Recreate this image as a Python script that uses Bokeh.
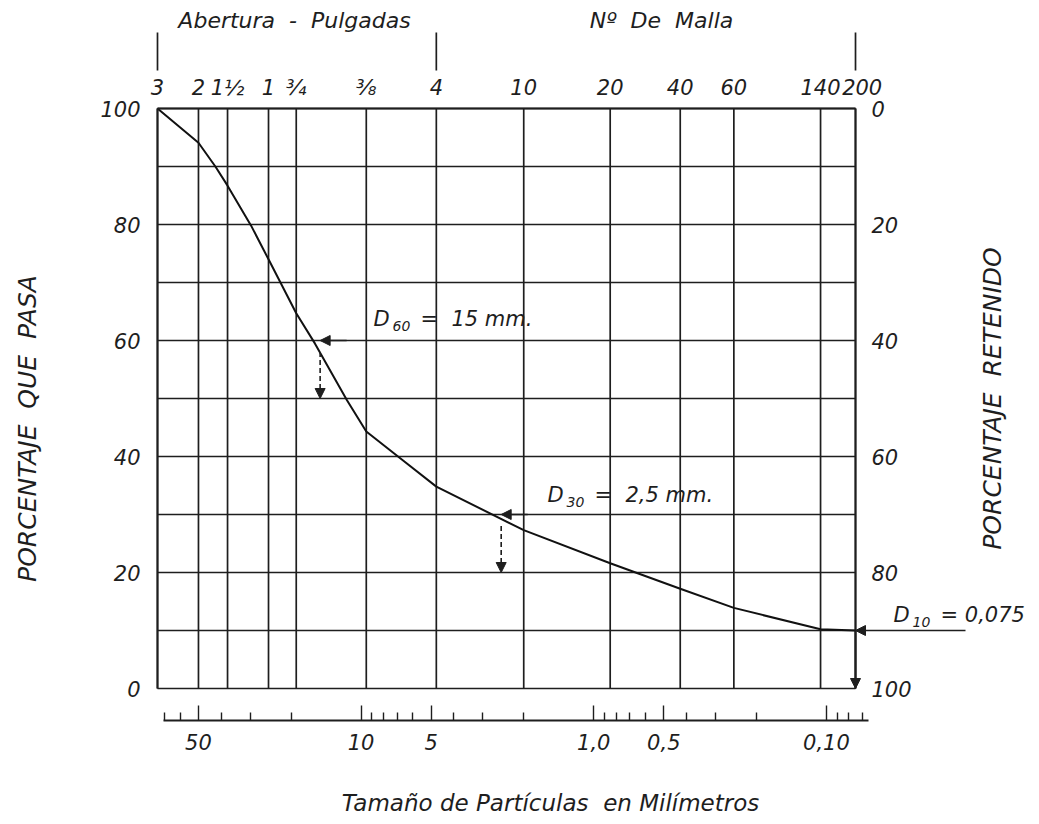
import numpy as np
from bokeh.plotting import figure
from bokeh.models import Range1d, LogScale, LinearAxis, LogAxis, FixedTicker, Arrow, NormalHead
from bokeh.core.properties import value
from bokeh.embed import file_html
from bokeh.resources import INLINE

# ---------------- data ----------------
particle_mm = [75, 50, 42.3, 37.5, 29.7, 25, 19, 15.8, 11.5, 9.5, 6.6, 4.75, 2.0,
               0.85, 0.425, 0.25, 0.106, 0.075]
percent_passing = [100, 94.1, 90, 86.7, 79.8, 74, 64.7, 59.5, 49.7, 44.3, 39.3, 34.8, 27.3,
                   21.6, 17.2, 13.9, 10.2, 10]

sieve_mm = [75, 50, 37.5, 25, 19, 9.5, 4.75, 2.0, 0.85, 0.425, 0.25, 0.106, 0.075]
sieve_labels = ["3", "2", "1½", "1", "¾", "⅜", "4", "10", "20", "40", "60", "140",
                "\u2007200"]

percent_ticks = [0, 20, 40, 60, 80, 100]
percent_grid = [0, 10, 20, 30, 40, 50, 60, 70, 80, 90, 100]

mm_major = [50, 10, 5, 1, 0.5, 0.1]
mm_major_labels = ["50", "10", "5", "1,0", "0,5", "0,10"]
mm_minor = [70, 60, 40, 30, 20, 9, 8, 7, 6, 4, 3, 2, 0.9, 0.8, 0.7, 0.6, 0.4, 0.3, 0.2,
            0.09, 0.08, 0.07]

d_subscripts = ["60", "30", "10"]
d_mm = [15, 2.5, 0.075]
d_percent = [60, 30, 10]
d_values = ["= \u00a015 mm.", "= \u00a02,5 mm.", "= 0,075"]

NB = "\u00a0"
group_labels = ["Abertura " + NB + "-" + NB + " Pulgadas", "Nº " + NB + "De " + NB + "Malla"]
group_edges_mm = [75, 4.75, 0.075]

title_left = "PORCENTAJE " + NB + "QUE " + NB + "PASA"
title_right = "PORCENTAJE " + NB + "RETENIDO"
title_bottom = "Tamaño de Partículas " + NB + "en Milímetros"

# ---------------- layout helpers (page pixels -> data) ----------------
W, H = 1035, 816
PAGE = 0
X75 = 157.0       # page x of 75 mm
PX_DEC = 232.67   # pixels per decade
Y0 = 688.0        # page y of 0 %
PX_PCT = 5.8      # pixels per percent


def mm_at(px):
    return 10 ** (np.log10(75) - (px - X75) / PX_DEC)


def pct_at(py):
    return (Y0 - py) / PX_PCT


ink = "#1e1e1e"
font = value("DejaVu Sans")
ital = value("italic")

x_range = Range1d(mm_at(PAGE), mm_at(PAGE + W))
y_range = Range1d(pct_at(PAGE + H), pct_at(PAGE))

p = figure(width=W, height=H, x_range=x_range, y_range=y_range, x_axis_type="log",
           x_axis_location=None, y_axis_location=None, toolbar_location=None,
           output_backend="svg", min_border=0, outline_line_color=None,
           background_fill_color="white", border_fill_color="white")
p.x_scale = LogScale()
p.grid.visible = False

# grid
n = len(sieve_mm)
p.segment(x0=sieve_mm, y0=[0] * n, x1=sieve_mm, y1=[100] * n, line_color=ink, line_width=1.7)
m = len(percent_grid)
p.segment(x0=[sieve_mm[0]] * m, y0=percent_grid, x1=[sieve_mm[-1]] * m, y1=percent_grid,
          line_color=ink, line_width=1.7)

# curve
p.line(particle_mm, percent_passing, line_color="#111111", line_width=2.0)


def style(ax, standoff):
    ax.major_label_text_font = "DejaVu Sans"
    ax.major_label_text_font_style = "italic"
    ax.major_label_text_font_size = "21px"
    ax.major_label_text_color = ink
    ax.axis_line_color = ink
    ax.axis_line_width = 1.9
    ax.major_tick_line_color = ink
    ax.minor_tick_line_color = ink
    ax.major_tick_line_width = 1.4
    ax.minor_tick_line_width = 1.4
    ax.major_label_standoff = standoff


left = LinearAxis(ticker=FixedTicker(ticks=percent_ticks), fixed_location=sieve_mm[0],
                  bounds=(0, 100), major_tick_in=0, major_tick_out=0,
                  minor_tick_in=0, minor_tick_out=0)
style(left, 17)
p.add_layout(left, "left")

p.extra_y_ranges = {"retained": Range1d(100 - y_range.start, 100 - y_range.end)}
right = LinearAxis(y_range_name="retained", ticker=FixedTicker(ticks=percent_ticks),
                   fixed_location=sieve_mm[-1], bounds=(0, 100), major_tick_in=0,
                   major_tick_out=0, minor_tick_in=0, minor_tick_out=0)
style(right, 16)
p.add_layout(right, "right")

top = LogAxis(ticker=FixedTicker(ticks=sieve_mm), fixed_location=100,
              bounds=(sieve_mm[-1], sieve_mm[0]), major_tick_in=0, major_tick_out=0,
              minor_tick_in=0, minor_tick_out=0,
              major_label_overrides=dict(zip(sieve_mm, sieve_labels)))
style(top, 9)
p.add_layout(top, "above")

bottom = LogAxis(ticker=FixedTicker(ticks=mm_major, minor_ticks=mm_minor),
                 fixed_location=pct_at(720), bounds=(0.066, 70.5),
                 major_tick_in=15, major_tick_out=0, minor_tick_in=8, minor_tick_out=0,
                 major_label_overrides=dict(zip(mm_major, mm_major_labels)))
style(bottom, 13)
p.add_layout(bottom, "below")

# titles
p.text(x=[mm_at(27)], y=[pct_at(428)], text=[title_left], angle=np.pi / 2,
       text_align="center", text_baseline="middle", text_font=font, text_font_style=ital,
       text_font_size="25px", text_color=ink)
p.text(x=[mm_at(992)], y=[pct_at(398)], text=[title_right], angle=np.pi / 2,
       text_align="center", text_baseline="middle", text_font=font, text_font_style=ital,
       text_font_size="25px", text_color=ink)
p.text(x=[mm_at(550)], y=[pct_at(802)], text=[title_bottom],
       text_align="center", text_baseline="middle", text_font=font, text_font_style=ital,
       text_font_size="23px", text_color=ink)

# group brackets
p.segment(x0=group_edges_mm, y0=[pct_at(70)] * 3, x1=group_edges_mm, y1=[pct_at(32)] * 3,
          line_color=ink, line_width=1.7)
p.text(x=[mm_at(294), mm_at(661)], y=[pct_at(20)] * 2, text=group_labels,
       text_align="center", text_baseline="middle", text_font=font, text_font_style=ital,
       text_font_size="22px", text_color=ink)

# D labels
d_px = [(373, 318), (547, 494), (893, 614)]
dx = [mm_at(a) for a, b in d_px]
dy = [pct_at(b) for a, b in d_px]
p.text(x=dx, y=dy, text=["D"] * 3, text_align="left", text_baseline="middle",
       text_font=font, text_font_style=ital, text_font_size="21px", text_color=ink)
p.text(x=dx, y=dy, text=d_subscripts, x_offset=19, y_offset=7, text_align="left",
       text_baseline="middle", text_font=font, text_font_style=ital, text_font_size="14px",
       text_color=ink)
p.text(x=dx, y=dy, text=d_values, x_offset=47, text_align="left", text_baseline="middle",
       text_font=font, text_font_style=ital, text_font_size="21px", text_color=ink)


def head():
    return NormalHead(size=10, fill_color=ink, line_color=ink, line_width=1)


for i, (d, pc) in enumerate(zip(d_mm, d_percent)):
    if i < 2:
        p.add_layout(Arrow(end=head(), x_start=d / 1.3, y_start=pc, x_end=d, y_end=pc,
                           line_color=ink, line_width=1.7))
        p.add_layout(Arrow(end=head(), x_start=d, y_start=pc - 2, x_end=d, y_end=pc - 10,
                           line_color=ink, line_width=1.6, line_dash="5 3"))
    else:
        p.add_layout(Arrow(end=head(), x_start=mm_at(965), y_start=pc, x_end=d, y_end=pc,
                           line_color=ink, line_width=1.7))
        p.add_layout(Arrow(end=head(), x_start=d, y_start=pc, x_end=d, y_end=0,
                           line_color=ink, line_width=1.7))

open("out.html", "w").write(file_html(p, INLINE))
